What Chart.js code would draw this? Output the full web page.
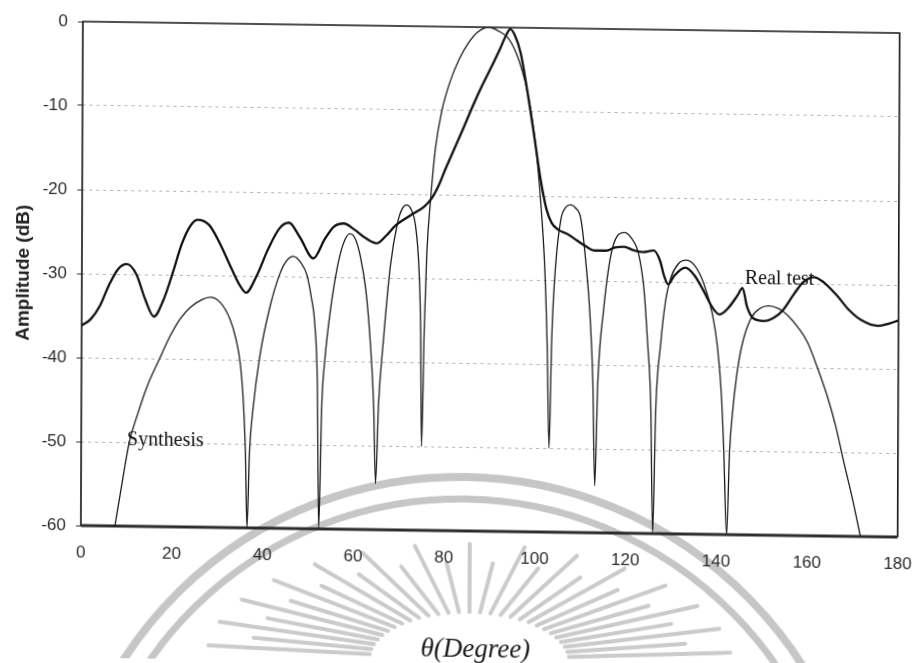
<!DOCTYPE html>
<html>
<head>
<meta charset="utf-8">
<script src="https://cdn.jsdelivr.net/npm/chart.js@4/dist/chart.umd.min.js"></script>
<style>
  html, body { margin: 0; padding: 0; background: #fff; overflow: hidden; }
  #wrap { width: 913px; height: 663px; position: relative; background: #fff; }
  /* slight shear, like a page laid a little crooked on the scanner */
  #c { display: block; transform-origin: 0 0; transform: matrix(1, 0.0141, -0.004, 1, 2, -6.6); }
</style>
</head>
<body>
<div id="wrap"><canvas id="c" width="913" height="663"></canvas></div>
<script>
// Measured radiation pattern (thick trace)
const realAngles = [0, 2, 4, 6, 8, 9.9, 12, 14, 15.9, 18, 20, 22, 23.8, 25.4, 28, 30.5, 33, 35, 36.2,
  38.5, 41, 43.5, 45.6, 48, 51, 53.5, 55.5, 57.7, 60, 62.5, 65, 67, 69, 71, 73, 75.3, 77, 78.5,
  80, 82, 84, 86, 88, 90, 92, 93.3, 94.2, 95.2, 96.5, 98, 99.6, 101, 102.3, 103.5, 105, 107, 109,
  111, 113, 115.5, 117.5, 119.5, 121.5, 123.5, 126, 127.4, 128.3, 129.2, 130.5, 133, 135, 137,
  139, 140.5, 142.5, 144.5, 145.6, 146.6, 148, 150.3, 152.5, 154.5, 157, 159, 161.4, 163.5,
  166.5, 169, 172, 175.5, 178, 180];
const realAmp = [-36.2, -35.4, -33.8, -31.3, -29.4, -28.8, -30.0, -33.0, -35.0, -33.0, -29.8, -26.3, -24.2, -23.4, -24.0, -26.3, -29.2, -31.3, -32.0,
  -30.0, -26.8, -24.3, -23.6, -25.3, -27.8, -25.5, -24.0, -23.6, -24.3, -25.3, -25.9, -25.0, -23.8, -23.0, -22.3, -21.5, -20.5, -19.0,
  -17.0, -14.5, -12.0, -9.4, -7.0, -4.8, -2.5, -0.9, -0.2, -0.9, -3.0, -7.5, -13.0, -18.0, -21.5, -23.2, -24.0, -24.5, -25.2,
  -25.9, -26.4, -26.4, -26.0, -25.9, -26.3, -26.5, -26.3, -27.5, -29.3, -30.3, -29.3, -28.3, -29.2, -31.0,
  -33.0, -33.8, -33.0, -31.5, -30.6, -32.8, -34.2, -34.5, -34.1, -33.2, -31.2, -29.8, -29.2, -29.8,
  -31.4, -33.0, -34.3, -34.9, -34.6, -34.2];

// Synthesized array pattern (thin trace)
const synthAngles = [7.5, 9, 10.6, 12.5, 14.5, 17.2, 19.5, 21.6, 24, 26.5, 28.3, 30.5, 32.7, 34.0, 35.0, 35.7, 36.2, 36.6,
  37.1, 37.8, 39.3, 41.5, 43.7, 45.0, 46.6, 48.2, 49.6, 50.6, 51.4, 52.0, 52.4,
  53.0, 53.6, 54.8, 56.3, 57.6, 59.0, 60.3, 61.4, 62.6, 63.6, 64.4, 64.9,
  65.5, 66.5, 68.0, 69.5, 70.5, 71.5, 72.5, 73.5, 74.3, 74.7, 75.0,
  75.5, 76.0, 76.8, 77.8, 79.2, 81, 83, 85, 87, 89.4, 91.5, 93.8, 95.5, 96.8, 98.0, 98.9, 100.0, 101.1, 102.0, 102.6, 103.1,
  103.6, 104.4, 105.5, 106.6, 107.7, 108.8, 109.9, 111.0, 112.0, 112.7, 113.2,
  113.8, 115.0, 116.6, 118.0, 119.5, 121.0, 122.7, 123.9, 124.7, 125.5, 126.0,
  126.6, 127.6, 128.6, 129.8, 131.5, 133.1, 135.0, 137.1, 139.0, 140.1, 141.0, 141.6, 142.3,
  142.9, 143.5, 144.4, 145.5, 147.5, 149.5, 151.4, 153.5, 155.6, 158.0, 160.0, 162.2, 164.4, 166.3, 168.0, 170.0, 171.8];
const synthAmp = [-60, -55, -50, -46.5, -43.3, -40, -37.3, -35.3, -33.8, -32.9, -32.6, -33.2, -35.2, -37.5, -40.5, -45, -51, -60,
  -51, -46, -39.5, -33.6, -29.6, -28.2, -27.6, -28.3, -29.8, -32.5, -35.8, -43, -60,
  -45, -40, -34, -28.8, -26, -24.8, -25.5, -27.6, -31.5, -37.5, -45, -54.5,
  -45, -37.5, -28.5, -23.5, -21.8, -21.3, -21.8, -23.8, -29, -36, -50,
  -36, -27, -20.5, -14.5, -10, -6.5, -3.8, -1.9, -0.6, 0, -0.4, -1.3, -3.0, -5.0, -7.5, -10.2, -14.5, -21, -28.5, -37.7, -50,
  -37, -28.2, -22.8, -21.3, -21.0, -21.4, -22.6, -27.5, -34, -42, -54.4,
  -42, -33.5, -26.8, -24.6, -24.2, -24.8, -26.8, -31, -37, -45, -60,
  -45, -37.5, -32.5, -29.5, -27.8, -27.4, -28.0, -30.2, -33.8, -37.5, -43, -49.8, -60,
  -50, -45.5, -41, -37.5, -34.2, -33.0, -32.7, -33.0, -33.8, -35.3, -37.0, -40.0, -43.4, -47, -51, -55.5, -60];

const xTicks = [0, 20, 40, 60, 80, 100, 120, 140, 160, 180];
const yTicks = [0, -10, -20, -30, -40, -50, -60];

// In-plot captions and where they sit (degree, dB)
const captionText = ['Real test', 'Synthesis'];
const captionAngle = [146.1, 10.1];
const captionAmp = [-30.1, -50.3];

const xTitle = 'θ(Degree)';
const yTitle = 'Amplitude (dB)';

// Faint university seal printed behind the page content
const seal = {
  id: 'seal',
  beforeDraw(chart) {
    const ctx = chart.ctx;
    ctx.save();
    ctx.fillStyle = '#ffffff';
    ctx.fillRect(0, 0, chart.width, chart.height);
    ctx.strokeStyle = '#c6c6c6';
    ctx.lineWidth = 8;
    ctx.beginPath(); ctx.arc(465, 880, 403, Math.PI, 2 * Math.PI); ctx.stroke();
    ctx.lineWidth = 7;
    ctx.beginPath(); ctx.arc(465, 880, 381, Math.PI, 2 * Math.PI); ctx.stroke();
    // sun rays
    const cx = 470, cy = 660, n = 29;
    ctx.strokeStyle = '#cbcbcb';
    ctx.lineCap = 'round';
    for (let i = 0; i < n; i++) {
      const a = Math.PI * (1.03 + 0.94 * i / (n - 1));
      const k = (i % 2 === 0) ? 1 : 0.84;
      const ox = cx + 262 * k * Math.cos(a), oy = cy + 116 * k * Math.sin(a);
      const ix = cx + 100 * Math.cos(a), iy = cy + 48 * Math.sin(a);
      ctx.lineWidth = 4;
      ctx.beginPath(); ctx.moveTo(ix, iy); ctx.lineTo(ox, oy); ctx.stroke();
    }
    ctx.restore();
  }
};

// Plot frame: thin on three sides, heavy along the bottom
const frame = {
  id: 'frame',
  beforeDatasetsDraw(chart) {
    const { ctx, chartArea: a } = chart;
    ctx.save();
    ctx.strokeStyle = '#151515';
    ctx.lineWidth = 1.6;
    ctx.beginPath();
    ctx.moveTo(a.left, a.bottom);
    ctx.lineTo(a.left, a.top);
    ctx.lineTo(a.right, a.top);
    ctx.lineTo(a.right, a.bottom);
    ctx.stroke();
    ctx.strokeStyle = '#2c2c2c';
    ctx.lineWidth = 3.2;
    ctx.beginPath();
    ctx.moveTo(a.left, a.bottom);
    ctx.lineTo(a.right, a.bottom);
    ctx.stroke();
    ctx.restore();
  }
};

// Series captions and the horizontal axis title
const captions = {
  id: 'captions',
  afterDatasetsDraw(chart) {
    const { ctx, scales: { x, y } } = chart;
    ctx.save();
    ctx.fillStyle = '#111';
    ctx.font = '20px "Liberation Serif", "Times New Roman", serif';
    ctx.textAlign = 'left';
    ctx.textBaseline = 'alphabetic';
    captionText.forEach((t, i) => {
      ctx.fillText(t, x.getPixelForValue(captionAngle[i]), y.getPixelForValue(captionAmp[i]));
    });
    ctx.font = 'italic 27px "Liberation Serif", "Times New Roman", serif';
    ctx.textAlign = 'center';
    ctx.fillStyle = '#1a1a1a';
    ctx.fillText(xTitle, 476, 657);
    ctx.restore();
  }
};

const tickFont = { family: '"Liberation Sans", Arial, sans-serif', size: 17 };

new Chart(document.getElementById('c'), {
  type: 'line',
  data: {
    datasets: [
      {
        label: 'Real test',
        data: realAngles.map((a, i) => ({ x: a, y: realAmp[i] })),
        borderColor: '#121212',
        borderWidth: 2.3,
        cubicInterpolationMode: 'monotone',
        pointRadius: 0,
        fill: false
      },
      {
        label: 'Synthesis',
        data: synthAngles.map((a, i) => ({ x: a, y: synthAmp[i] })),
        borderColor: '#1c1c1c',
        borderWidth: 1.3,
        cubicInterpolationMode: 'monotone',
        pointRadius: 0,
        fill: false
      }
    ]
  },
  options: {
    responsive: false,
    animation: false,
    devicePixelRatio: 1,
    layout: { padding: { left: 0, top: 27, right: 0, bottom: 0 } },
    plugins: { legend: { display: false }, tooltip: { enabled: false } },
    scales: {
      x: {
        type: 'linear',
        min: 0,
        max: 180,
        afterFit(s) { s.height = 132; },
        afterBuildTicks(s) { s.ticks = xTicks.map(v => ({ value: v })); },
        grid: { display: false, drawTicks: true, tickLength: 16 },
        border: { display: false },
        ticks: { padding: 1, font: tickFont, color: '#2b2b2b', maxRotation: 0, autoSkip: false }
      },
      y: {
        type: 'linear',
        min: -60,
        max: 0,
        afterFit(s) { s.width = 81; },
        afterBuildTicks(s) { s.ticks = yTicks.map(v => ({ value: v })); },
        grid: {
          color: c => (c.tick && (c.tick.value === 0 || c.tick.value === -60)) ? 'rgba(0,0,0,0)' : '#b4b4b4',
          lineWidth: 1,
          tickLength: 5,
          tickColor: '#333',
          tickBorderDash: []
        },
        border: { display: false, dash: [3, 4] },
        ticks: { padding: 10, font: tickFont, color: '#2b2b2b', autoSkip: false },
        title: {
          display: true,
          text: yTitle,
          color: '#222',
          font: { family: '"Liberation Sans", Arial, sans-serif', size: 19, weight: 'bold' },
          padding: { top: 11, bottom: 0 }
        }
      }
    }
  },
  plugins: [seal, frame, captions]
});
</script>
</body>
</html>
